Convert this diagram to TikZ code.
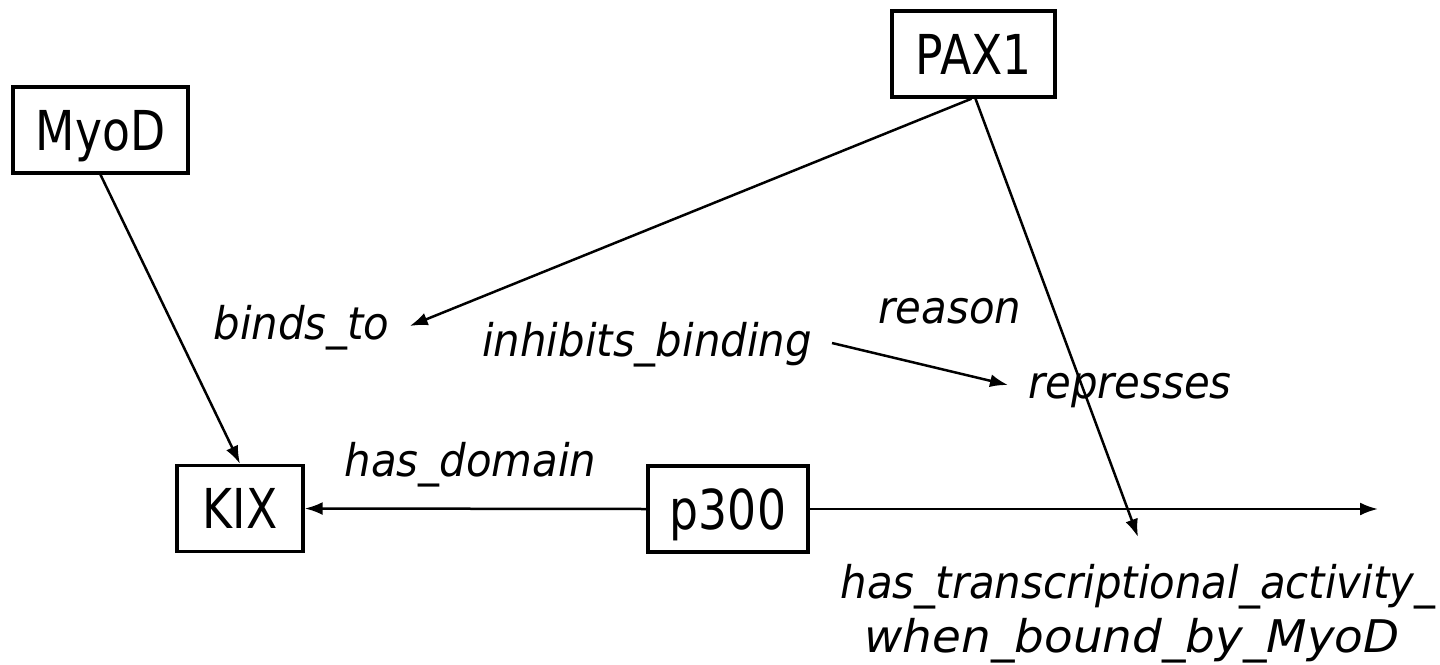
\documentclass[tikz,border=0pt]{standalone}
\usepackage{fontspec}
\usetikzlibrary{arrows.meta}
\newfontfamily\boxfont[FakeStretch=0.83]{DejaVu Sans}
\newfontfamily\lblfont[FakeStretch=0.93]{DejaVu Sans}
\begin{document}
\begin{tikzpicture}[x=1pt,y=-1pt,
  entity/.style={draw=black, line width=3.4pt, fill=white, inner sep=0pt,
    font=\boxfont\fontsize{55}{66}\selectfont, text height=40pt, text depth=0pt},
  lbl/.style={inner xsep=20pt, inner ysep=4pt, anchor=base,
    font=\lblfont\itshape\fontsize{45}{54}\selectfont, text height=34pt, text depth=8pt},
  conn/.style={line width=2.5pt, -{Latex[length=18pt,width=13pt]}}
]
\useasboundingbox (0,0) rectangle (1440,664);
\node[entity, minimum width=163pt, minimum height=86pt] (pax) at (973.5,54) {PAX1};
\node[entity, minimum width=175pt, minimum height=86pt] (myod) at (100.5,130) {MyoD};
\node[entity, minimum width=126pt, minimum height=86pt] (kix) at (240,508.5) {KIX};
\node[entity, minimum width=160pt, minimum height=86pt] (p300) at (728,509) {p300};

\node[lbl] (binds) at (301.5,339) {binds\_to};
\node[lbl] (inhib) at (647,356) {inhibits\_binding};
\node[lbl] (reason) at (950,323) {reason};
\node[lbl] (repr) at (1130,398) {represses};
\node[lbl] (hasdom) at (470.5,476) {has\_domain};
\node[font=\lblfont\itshape\fontsize{45}{54}\selectfont, align=center,
  inner xsep=0pt, inner ysep=27pt, anchor=north] (hta) at (1138,537)
  {has\_transcriptional\_activity\_\\\hspace*{-12pt}\scalebox{1.12}[1]{when\_bound\_by\_MyoD}};

\coordinate (rend) at (1378,509);

\draw[conn] (myod.south) -- (kix.north);
\draw[conn] ([xshift=-2pt]pax.south) -- (binds.east);
\draw[conn] ([xshift=2pt]pax.south) -- (hta.north);
\draw[conn] (inhib.east) -- (repr.west);
\draw[conn] (p300.west) -- (kix.east);
\draw[conn] (p300.east) -- (rend);
\end{tikzpicture}
\end{document}
